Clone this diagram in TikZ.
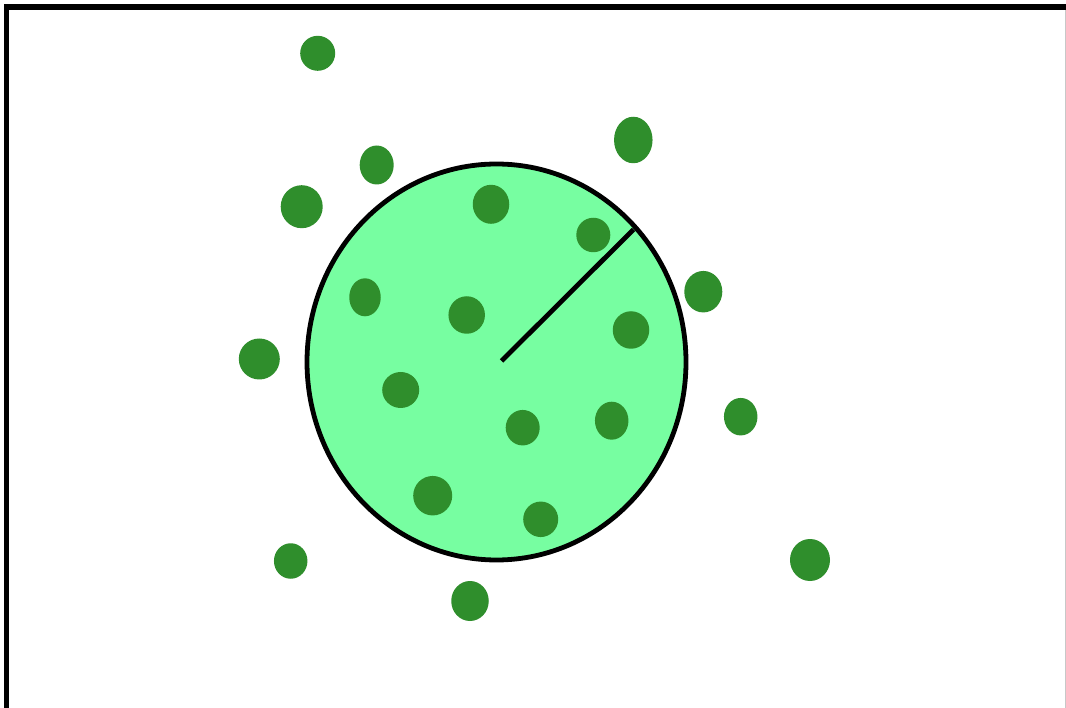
\documentclass[tikz,border=0pt]{standalone}
\usetikzlibrary{shapes.geometric}
\definecolor{cellfill}{RGB}{119,254,161}
\definecolor{dotgreen}{RGB}{47,142,44}
\definecolor{edgegray}{RGB}{200,200,200}
\tikzset{
  dotnode/.style={ellipse, fill=dotgreen, inner sep=0pt, outer sep=0pt},
  bigcell/.style={ellipse, draw=black, line width=4.8pt, fill=cellfill, inner sep=0pt,
    minimum width=379pt, minimum height=396pt},
  radiusline/.style={draw=black, line width=4.8pt}
}
\newcommand{\dotat}[5]{\node[dotnode, minimum width=#4pt, minimum height=#5pt] (#1) at (#2,#3) {};}
\begin{document}
\begin{tikzpicture}[x=1pt,y=-1pt]
\useasboundingbox (0,0) rectangle (1066,708);
\fill[white] (0,0) rectangle (1066,708);
% frame
\fill[black] (4,4.5) rectangle (1066,10);
\fill[black] (3.5,4.5) rectangle (9,708);
\draw[edgegray, line width=1pt] (1065,10) -- (1065,708);
% cell
\node[bigcell] (cell) at (496.5,362) {};
% radius
\coordinate (rc) at (501.5,361);
\coordinate (rp) at (633.5,229.5);
\draw[radiusline] (rc) -- (rp);
% dots
\dotat{d1}{317.7}{53.3}{35}{35}
\dotat{d2}{376.7}{165}{34}{39}
\dotat{d3}{301.7}{206.7}{42}{43}
\dotat{d4}{633.3}{140}{38.5}{46.5}
\dotat{d5}{491}{204.3}{36.5}{39}
\dotat{d6}{593.3}{235}{34}{34.5}
\dotat{d7}{365}{297.3}{31.5}{38}
\dotat{d8}{466.7}{315}{36.5}{37.5}
\dotat{d9}{703.3}{291.7}{38}{41.5}
\dotat{d10}{631}{330}{36.5}{37.5}
\dotat{d11}{259.3}{359}{41}{41}
\dotat{d12}{400.7}{390}{37}{36}
\dotat{d13}{522.7}{427.7}{34}{35.5}
\dotat{d14}{611.7}{420.7}{33.5}{38}
\dotat{d15}{740.7}{416.7}{33.5}{37.5}
\dotat{d16}{432.7}{495.7}{39}{39.5}
\dotat{d17}{540.7}{519.3}{35}{35.5}
\dotat{d18}{290.7}{561}{33.5}{35.5}
\dotat{d19}{470}{601}{37.5}{40}
\dotat{d20}{810}{560}{40}{42}
\end{tikzpicture}
\end{document}
